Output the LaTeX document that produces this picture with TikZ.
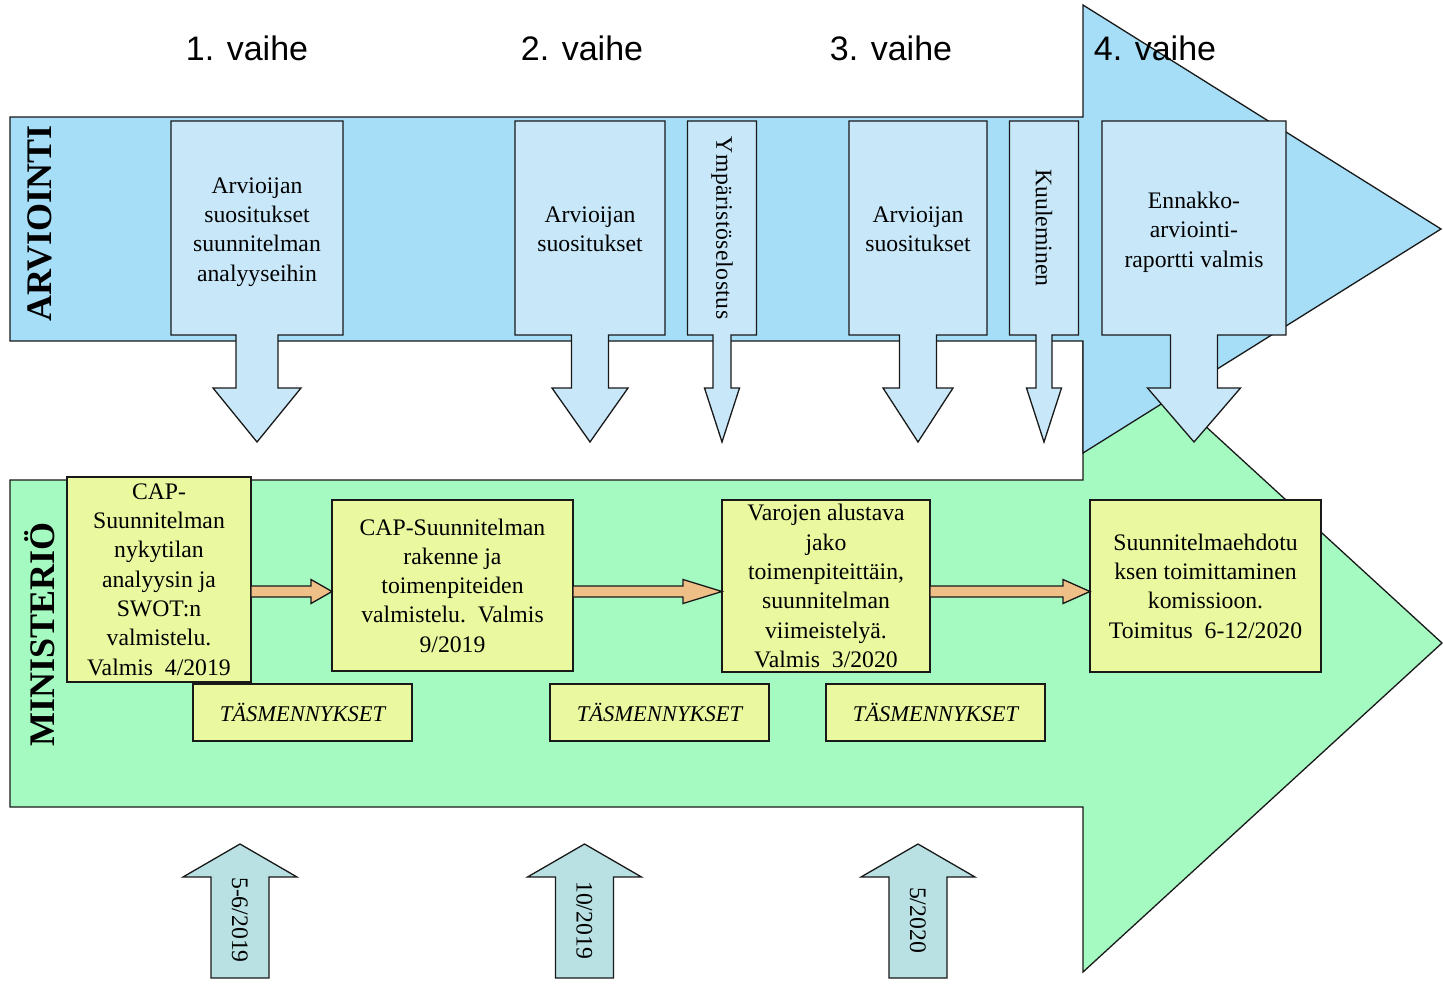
\documentclass[tikz,border=0pt]{standalone}
\usepackage{fontspec}
\setmainfont{Liberation Serif}
\newfontfamily\arialf{Liberation Sans}
\usetikzlibrary{calc}
\definecolor{bigblue}{RGB}{166,222,247}
\definecolor{boxblue}{RGB}{200,232,249}
\definecolor{biggreen}{RGB}{164,250,192}
\definecolor{yboxc}{RGB}{234,248,160}
\definecolor{orangec}{RGB}{238,192,136}
\definecolor{tealc}{RGB}{185,225,227}
\newcommand\mytxt{\fontsize{23.7}{29.3}\selectfont}
\newcommand\mycallout[3]{%
\fill[boxblue] ($(#1.south)+(-#2,0)$) -- ++(0,-53) -- ++({#2-#3},0) -- ($(#1.south)+(0,-107)$) -- ($(#1.south)+(#3,-53)$) -- ++({#2-#3},0) -- ++(0,53) -- cycle;
\draw[line] (#1.south west) -- (#1.north west) -- (#1.north east) -- (#1.south east) -- ($(#1.south)+(#2,0)$) -- ++(0,-53) -- ++({#3-#2},0) -- ($(#1.south)+(0,-107)$) -- ($(#1.south)+(-#3,-53)$) -- ++({#3-#2},0) -- ++(0,53) -- cycle;}
\newcommand\myoarrow[3]{%
\draw[line, fill=orangec] let \p1=(#1.east), \p2=(#2.west) in (\x1,-586pt) -- ({\x2-#3pt},-586pt) -- ({\x2-#3pt},-579.5pt) -- (\x2,-591.5pt) -- ({\x2-#3pt},-603.5pt) -- ({\x2-#3pt},-597pt) -- (\x1,-597pt) -- cycle;}
\newcommand\myuparrow[1]{%
\draw[line, fill=tealc] ({#1-29},-978) -- ({#1-29},-877) -- ({#1-57},-877) -- (#1,-844) -- ({#1+57},-877) -- ({#1+29},-877) -- ({#1+29},-978) -- cycle;}
\begin{document}
\begin{tikzpicture}[x=1pt,y=1pt,
  line/.style={draw=black!90, line width=1.3pt, line join=miter},
  bbox/.style={fill=boxblue, inner sep=0pt, outer sep=0pt, minimum height=214},
  btxt/.style={align=center, font=\mytxt, inner sep=0pt},
  ybox/.style={fill=yboxc, draw=black!90, line width=1.3pt, inner sep=0pt, outer sep=0pt, align=center, font=\mytxt},
  tbox/.style={ybox, minimum width=219, minimum height=57, font=\itshape\fontsize{22.5}{27}\selectfont},
  vtxt/.style={rotate=-90, font=\mytxt, inner sep=0pt},
  phase/.style={anchor=base, font=\arialf\fontsize{34}{34}\selectfont, inner sep=0pt},
  side/.style={rotate=90, font=\bfseries\fontsize{36}{36}\selectfont, inner sep=0pt}]
\useasboundingbox (0,0) rectangle (1443,-985);
% big arrows
\draw[line, fill=biggreen] (10,-480) -- (1083,-480) -- (1083,-314) -- (1442,-643) -- (1083,-972) -- (1083,-807) -- (10,-807) -- cycle;
\draw[line, fill=bigblue] (10,-117) -- (1083,-117) -- (1083,-5) -- (1441,-229) -- (1083,-453) -- (1083,-341) -- (10,-341) -- cycle;
% phase labels
\node[phase] (v1) at (247,-60) {1. vaihe};
\node[phase] (v2) at (582,-60) {2. vaihe};
\node[phase] (v3) at (891,-60) {3. vaihe};
\node[phase] (v4) at (1155,-60) {4. vaihe};
% side labels
\node[side] (arv) at (40,-223.5) {ARVIOINTI};
\node[side] (min) at (40,-634) {MINISTERIÖ};
% blue callouts
\node[bbox, minimum width=172] (b1) at (257,-228) {};
\mycallout{b1}{21}{44}
\node[btxt] (b1t) at ([yshift=-4]b1.center) {Arvioijan\\suositukset\\suunnitelman\\analyyseihin};
\node[bbox, minimum width=150] (b2) at (590,-228) {};
\mycallout{b2}{18.5}{38}
\node[btxt] (b2t) at ([yshift=-1]b2.center) {Arvioijan\\suositukset};
\node[bbox, minimum width=69] (b3) at (722,-228) {};
\mycallout{b3}{9}{17.5}
\node[vtxt] (b3t) at (b3.center) {\addfontfeature{LetterSpace=2}Ympäristöselostus};
\node[bbox, minimum width=138] (b4) at (918,-228) {};
\mycallout{b4}{18.5}{35}
\node[btxt] (b4t) at ([yshift=-1]b4.center) {Arvioijan\\suositukset};
\node[bbox, minimum width=69] (b5) at (1044,-228) {};
\mycallout{b5}{8}{17.5}
\node[vtxt] (b5t) at (b5.center) {Kuuleminen};
\node[bbox, minimum width=184] (b6) at (1194,-228) {};
\mycallout{b6}{23.5}{46.5}
\node[btxt] (b6t) at ([yshift=-4]b6.center) {Ennakko-\\arviointi-\\raportti valmis};
% ministry boxes
\node[ybox, minimum width=184, minimum height=205] (yA) at (159,-579.5) {CAP-\\Suunnitelman\\nykytilan\\analyysin ja\\SWOT:n\\valmistelu.\\Valmis\ \ 4/2019};
\node[ybox, minimum width=241, minimum height=171] (yB) at (452.5,-585.5) {CAP-Suunnitelman\\rakenne ja\\toimenpiteiden\\valmistelu.\ \ Valmis\\9/2019};
\node[ybox, minimum width=208, minimum height=172] (yC) at (826,-586) {Varojen alustava\\jako\\toimenpiteittäin,\\suunnitelman\\viimeistelyä.\\Valmis\ \ 3/2020};
\node[ybox, minimum width=231, minimum height=172] (yD) at (1205.5,-586) {Suunnitelmaehdotu\\ksen toimittaminen\\komissioon.\\Toimitus\ \ 6-12/2020};
\node[tbox] (t1) at (302.5,-712.5) {TÄSMENNYKSET};
\node[tbox] (t2) at (659.5,-712.5) {TÄSMENNYKSET};
\node[tbox] (t3) at (935.5,-712.5) {TÄSMENNYKSET};
% orange connectors
\myoarrow{yA}{yB}{21}
\myoarrow{yB}{yC}{39}
\myoarrow{yC}{yD}{27}
% bottom date arrows
\myuparrow{240}
\node[vtxt] (d1) at (240,-920) {5-6/2019};
\myuparrow{584.5}
\node[vtxt] (d2) at (584.5,-920) {10/2019};
\myuparrow{918}
\node[vtxt] (d3) at (918,-920) {5/2020};
\end{tikzpicture}
\end{document}
